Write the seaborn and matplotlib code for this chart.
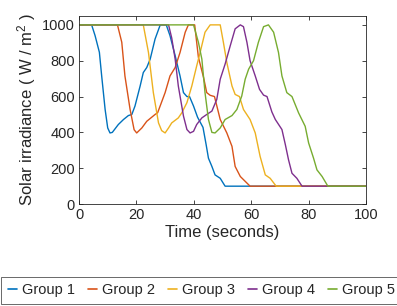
import pandas as pd
import matplotlib
matplotlib.use("Agg")
import matplotlib.pyplot as plt
import seaborn as sns

# === data (time in s, irradiance in W/m2) ===
t1 = [0, 4.4, 5.6, 7.1, 7.9, 9.1, 10.0, 10.8, 11.6, 13.7, 15.5, 17.2, 18.4, 19.5, 21.3, 22.4, 23.6,
      24.8, 26.5, 28.3, 30.4, 31.7, 33.5, 35.2, 36.4, 37.6, 38.5, 39.9, 41.3, 43.2, 44.3, 45.1,
      46.3, 47.4, 49.2, 50.9, 100]
v1 = [1000, 1000, 940, 847, 715, 528, 425, 397, 400, 444, 472, 494, 500, 547, 659, 734, 762,
      809, 921, 1000, 1000, 940, 828, 715, 622, 600, 600, 547, 485, 428, 331, 256,
      210, 163, 144, 100, 100]

t2 = [0, 13.4, 14.9, 16.0, 17.8, 19.2, 20.1, 21.9, 23.6, 26.5, 27.4, 30.0, 31.7, 33.5, 35.2,
      37.0, 38.1, 40.3, 41.6, 43.4, 44.5, 45.7, 47.2, 49.2, 51.5, 53.3, 54.4, 56.2, 59.6, 100]
v2 = [1000, 1000, 903, 715, 528, 415, 397, 425, 462, 500, 510, 622, 715, 762, 846,
      959, 1000, 1000, 819, 706, 622, 607, 600, 472, 397, 322, 210, 154, 100, 100]

t3 = [0, 22.4, 24.2, 25.9, 27.7, 28.8, 30.0, 31.2, 32.3, 34.6, 35.8, 37.6, 39.3, 41.0, 42.2,
      43.9, 45.7, 49.2, 50.3, 51.5, 53.3, 54.4, 55.9, 57.3, 59.6, 61.4, 63.1, 64.9, 66.6, 68.7, 100]
v3 = [1000, 1000, 846, 622, 453, 410, 397, 425, 453, 481, 509, 566, 659, 771, 846,
      959, 1000, 1000, 903, 790, 659, 612, 600, 528, 472, 397, 266, 163, 144, 100, 100]

t4 = [0, 31.2, 32.3, 33.5, 34.6, 36.4, 37.6, 38.7, 39.9, 41.0, 42.8, 44.5, 46.3, 48.0, 49.2,
      50.9, 52.7, 54.4, 56.2, 57.3, 58.5, 59.6, 61.4, 62.9, 64.3, 65.5, 67.2, 68.4, 70.7, 71.9,
      73.0, 74.2, 75.9, 77.7, 100]
v4 = [1000, 1000, 927, 809, 659, 491, 416, 397, 406, 444, 481, 500, 519, 584, 697,
      781, 884, 978, 1000, 990, 903, 800, 715, 640, 608, 600, 514, 472, 416, 331,
      247, 172, 144, 100, 100]

t5 = [0, 39.9, 41.6, 42.8, 43.9, 45.1, 46.3, 47.4, 49.2, 50.9, 53.3, 55.0, 56.7, 57.9, 59.1,
      60.8, 62.5, 64.3, 66.0, 67.8, 69.5, 70.7, 72.4, 74.2, 76.5, 78.8, 80.0, 81.7, 82.9, 84.7,
      86.7, 100]
v5 = [1000, 1000, 903, 809, 622, 472, 400, 397, 425, 472, 494, 528, 603, 697, 753,
      800, 903, 990, 1000, 959, 846, 715, 622, 600, 509, 434, 341, 257, 191, 154,
      100, 100]

groups = ["Group 1", "Group 2", "Group 3", "Group 4", "Group 5"]
colors = ["#0072BD", "#D95319", "#EDB120", "#7E2F8E", "#77AC30"]

frames = []
for name, t, v in zip(groups, [t1, t2, t3, t4, t5], [v1, v2, v3, v4, v5]):
    frames.append(pd.DataFrame({"time": t, "irr": v, "group": name}))
df = pd.concat(frames, ignore_index=True)

# === style (MATLAB-like) ===
sns.set_style("ticks")
plt.rcParams["font.family"] = ["Liberation Sans", "DejaVu Sans"]
plt.rcParams["mathtext.default"] = "regular"
grey = "#262626"

fig = plt.figure(figsize=(3.97, 3.06), dpi=100)
ax = fig.add_axes([0.199, 0.333, 0.723, 0.615])

sns.lineplot(data=df, x="time", y="irr", hue="group", palette=colors,
             linewidth=1.0, sort=False, estimator=None, ax=ax, legend=False)

ax.set_xlim(0, 100)
ax.set_ylim(0, 1050)
ax.set_xticks([0, 20, 40, 60, 80, 100])
ax.set_yticks([0, 200, 400, 600, 800, 1000])
ax.set_xlabel("Time (seconds)", fontsize=12, color=grey, labelpad=2)
ax.set_ylabel("Solar irradiance ( W / m$^2$ )", fontsize=12, color=grey, labelpad=3)
ax.tick_params(direction="in", length=3, width=0.6, colors=grey, labelsize=10.5,
               top=True, right=True, pad=3)
for s in ax.spines.values():
    s.set_visible(True)
    s.set_color(grey)
    s.set_linewidth(0.6)

handles = [plt.Line2D([], [], color=c, lw=1.2) for c in colors]
leg = fig.legend(handles, groups, loc="center left", bbox_to_anchor=(0.003, 0.052), ncol=5,
                 fontsize=10.5, handlelength=0.65, handletextpad=0.35, columnspacing=0.85,
                 frameon=True, fancybox=False, borderpad=0.45, borderaxespad=0)
leg.get_frame().set_edgecolor(grey)
leg.get_frame().set_linewidth(0.6)
for txt in leg.get_texts():
    txt.set_color(grey)

fig.savefig("out.png", dpi=100)
